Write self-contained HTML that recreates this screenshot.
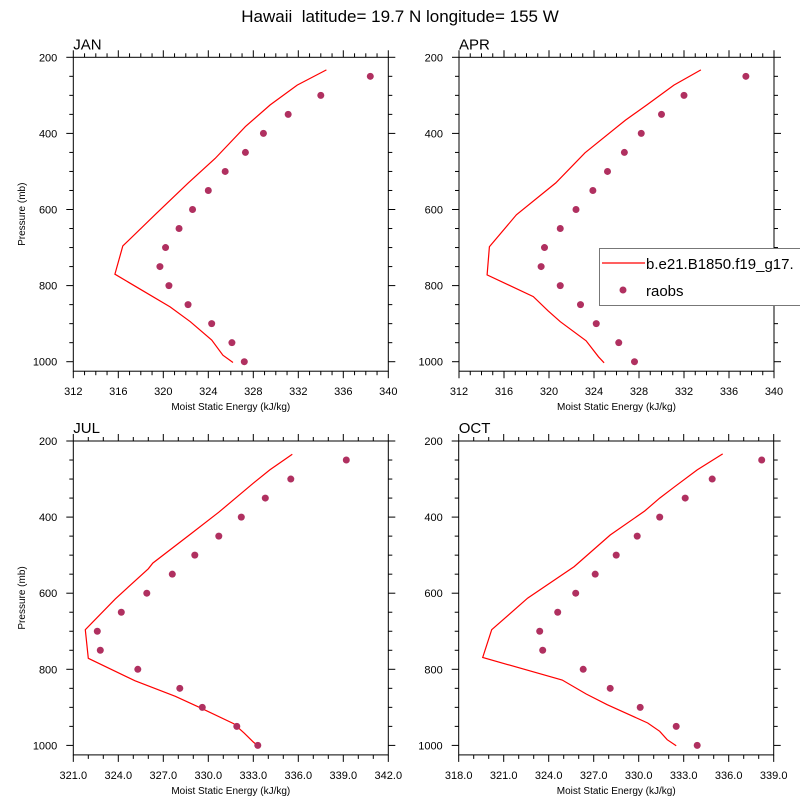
<!DOCTYPE html>
<html><head><meta charset="utf-8">
<style>
body{margin:0;background:#fff;font-family:"Liberation Sans",sans-serif;}
svg text{font-family:"Liberation Sans",sans-serif;fill:#000;}
</style></head>
<body>
<svg id="chart" width="800" height="800" viewBox="0 0 800 800">
<text x="400" y="22" text-anchor="middle" font-size="17" style="white-space:pre">Hawaii  latitude= 19.7 N longitude= 155 W</text>
</svg>
<script>
const obsPressure=[250,300,350,400,450,500,550,600,650,700,750,800,850,900,950,1000];
const janObs=[338.4,334.0,331.1,328.9,327.3,325.5,324.0,322.6,321.4,320.2,319.7,320.5,322.2,324.3,326.1,327.2];
const janModelP=[233,273,325,382,466,531,610,696,770,812,856,895,943,983,1002];
const janModel=[334.5,331.9,329.5,327.3,324.6,322.2,319.4,316.4,315.7,318.1,320.6,322.4,324.3,325.3,326.2];
const aprObs=[337.5,332.0,330.0,328.2,326.7,325.2,323.9,322.4,321.0,319.6,319.3,321.0,322.8,324.2,326.2,327.6];
const aprModelP=[233,273,325,365,451,530,614,698,772,829,866,895,945,987,1003];
const aprModel=[333.5,331.1,328.7,326.8,323.2,320.6,317.1,314.7,314.5,318.6,319.9,321.0,323.3,324.4,324.9];
const julObs=[339.2,335.5,333.8,332.2,330.7,329.1,327.6,325.9,324.2,322.6,322.8,325.3,328.1,329.6,331.9,333.3];
const julModelP=[235,276,311,387,442,521,536,615,696,771,830,871,900,943,968,991,1001];
const julModel=[335.6,334.1,333.0,330.7,328.9,326.3,326.0,323.8,321.8,322.0,325.1,327.8,329.4,331.7,332.4,333.0,333.3];
const octObs=[338.2,334.9,333.1,331.4,329.9,328.5,327.1,325.8,324.6,323.4,323.6,326.3,328.1,330.1,332.5,333.9];
const octModelP=[234,276,320,350,384,447,530,613,696,769,828,865,893,941,963,985,1001];
const octModel=[335.6,333.9,332.4,331.4,330.4,328.1,325.7,322.6,320.2,319.6,324.9,326.5,327.9,330.6,331.4,331.9,332.5];
const janTicks=["312","316","320","324","328","332","336","340"];
const julTicks=["321.0","324.0","327.0","330.0","333.0","336.0","339.0","342.0"];
const octTicks=["318.0","321.0","324.0","327.0","330.0","333.0","336.0","339.0"];
const yTicks=["200","400","600","800","1000"];

const NS="http://www.w3.org/2000/svg";
const svg=document.getElementById('chart');
function mk(tag,attrs,parent){const e=document.createElementNS(NS,tag);for(const k in attrs)e.setAttribute(k,attrs[k]);(parent||svg).appendChild(e);return e;}

function panel(name,label,L,T,xmin,xmax,xMajor,xMinor,xTicks,obs,mp,mv,yTitle){
  const R=L+315, B0=T+304.4;
  const Bf=B0+9.5;
  const xs=v=>L+(v-xmin)/(xmax-xmin)*(R-L);
  const ys=p=>T+(p-200)/800*(B0-T);
  const g=mk('g',{});
  
  
  const fr=mk('rect',{x:L,y:T,width:R-L,height:Bf-T,fill:'none',stroke:'#000','stroke-width':1},g);
  
  
  const lab=mk('text',{x:L,y:T-8,'font-size':15},g);lab.textContent=label;
  
  
  for(let v=xmin;v<=xmax+1e-6;v+=xMinor){
    const maj=Math.abs(((v-xmin)/xMajor)-Math.round((v-xmin)/xMajor))<1e-6;
    const len=maj?7:4;const x=xs(v);
    mk('line',{x1:x,x2:x,y1:T,y2:T-len,stroke:'#000'},g);
    mk('line',{x1:x,x2:x,y1:Bf,y2:Bf+len,stroke:'#000'},g);
  }
  xTicks.forEach((t,i)=>{const v=xmin+i*xMajor;const e=mk('text',{x:xs(v),y:Bf+24,'text-anchor':'middle','font-size':11},g);e.textContent=t;
    
    });
  for(let p=200;p<=1000;p+=50){
    const maj=p%200===0;const len=maj?7:4;const y=ys(p);
    mk('line',{x1:L,x2:L-len,y1:y,y2:y,stroke:'#000'},g);
    mk('line',{x1:R,x2:R+len,y1:y,y2:y,stroke:'#000'},g);
  }
  yTicks.forEach(t=>{const e=mk('text',{x:L-16,y:ys(+t)+4,'text-anchor':'end','font-size':11},g);e.textContent=t;
    
    });
  const xt=mk('text',{x:(L+R)/2,y:Bf+39,'text-anchor':'middle','font-size':10},g);xt.textContent='Moist Static Energy (kJ/kg)';
  
  
  if(yTitle){const cy=(T+Bf)/2;const yt=mk('text',{x:25,y:cy,'text-anchor':'middle','font-size':10,transform:`rotate(-90 25 ${cy})`},g);yt.textContent='Pressure (mb)';
    
    }
  const pts=mv.map((v,i)=>xs(v).toFixed(1)+','+ys(mp[i]).toFixed(1)).join(' ');
  const pl=mk('polyline',{points:pts,fill:'none',stroke:'#ff0000','stroke-width':1.2},g);
  
  
  obs.forEach((v,i)=>{const c=mk('circle',{cx:xs(v),cy:ys(obsPressure[i]),r:3.5,fill:'#b03060'},g);
    
    });
}
panel('jan','JAN',73.3,57.3,312,340,4,1,janTicks,janObs,janModelP,janModel,true);
panel('apr','APR',459,57.3,312,340,4,1,janTicks,aprObs,aprModelP,aprModel,false);
panel('jul','JUL',73.3,441,321,342,3,1,julTicks,julObs,julModelP,julModel,true);
panel('oct','OCT',458.7,441,318,339,3,1,octTicks,octObs,octModelP,octModel,false);

const lg=mk('g',{});


mk('rect',{x:599.5,y:248.5,width:210,height:57,fill:'#fff',stroke:'#777'},lg);
const l1=mk('line',{x1:602,x2:645,y1:263,y2:263,stroke:'#ff0000','stroke-width':1.2},lg);


const t1=mk('text',{x:646,y:269,'font-size':15},lg);t1.textContent='b.e21.B1850.f19_g17.';


const c1=mk('circle',{cx:623,cy:290,r:3.5,fill:'#b03060'},lg);


const t2=mk('text',{x:646,y:296,'font-size':15},lg);t2.textContent='raobs';


</script>
</body></html>
